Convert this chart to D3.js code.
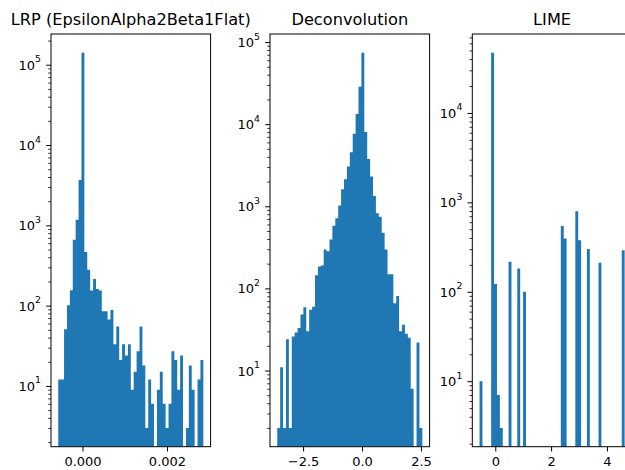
<!DOCTYPE html>
<html>
<head>
<meta charset="utf-8">
<script src="https://cdn.jsdelivr.net/npm/d3@7"></script>
<style>
  html, body { margin: 0; padding: 0; background: #fff; overflow: hidden; }
  svg { display: block; font-family: "DejaVu Sans", sans-serif; }
</style>
</head>
<body>
<div id="chart"></div>
<script>
// three log-scale histograms, 50 equal bins each, counts
var titles = ["LRP (EpsilonAlpha2Beta1Flat)", "Deconvolution", "LIME"]

var lrpRange = [-0.000574, 0.002861]
var lrpCounts = [12, 12, 51, 101, 155, 660, 1170, 3670, 141000, 465,
                 280, 154, 215, 161, 154, 85, 85, 67, 88, 33,
                 55, 21, 33, 24, 33, 9, 15, 27, 55, 18,
                 3, 12, 6, 0, 9, 15, 6, 3, 6, 27,
                 21, 9, 24, 0, 3, 18, 9, 0, 12, 21]
var lrpXTicks = [0, 0.002]
var lrpXLabels = ["0.000", "0.002"]
var lrpYExps = [1, 2, 3, 4, 5]

var deconvRange = [-3.596, 2.556]
var deconvCounts = [2, 11, 2, 24, 2, 26, 29, 33, 48, 59,
                    30, 55, 60, 145, 185, 190, 297, 284, 394, 578,
                    717, 1020, 1615, 2137, 3043, 4550, 7660, 13300, 28500, 74000,
                    8040, 3770, 2300, 1338, 824, 743, 475, 297, 149, 149,
                    66, 81, 30, 36, 28, 25, 6, 0, 22, 2]
var deconvXTicks = [-2.5, 0, 2.5]
var deconvXLabels = ["\u22122.5", "0.0", "2.5"]
var deconvYExps = [1, 2, 3, 4, 5]

var limeRange = [-0.563, 4.634]
var limeCounts = [10, 0, 0, 0, 47100, 122, 7, 3, 0, 0,
                  217, 0, 0, 182, 0, 100, 0, 0, 0, 0,
                  0, 0, 0, 0, 0, 0, 0, 0, 544, 393,
                  0, 0, 0, 793, 377, 0, 0, 300, 0, 0,
                  0, 211, 0, 0, 0, 0, 0, 0, 0, 292]
var limeXTicks = [0, 2, 4]
var limeXLabels = ["0", "2", "4"]
var limeYExps = [1, 2, 3, 4]

var panels = [
    { title: titles[0], range: lrpRange, counts: lrpCounts, xTicks: lrpXTicks, xLabels: lrpXLabels, yExps: lrpYExps, left: 51 },
    { title: titles[1], range: deconvRange, counts: deconvCounts, xTicks: deconvXTicks, xLabels: deconvXLabels, yExps: deconvYExps, left: 270 },
    { title: titles[2], range: limeRange, counts: limeCounts, xTicks: limeXTicks, xLabels: limeXLabels, yExps: limeYExps, left: 472.3 }
]

var width = 625
var height = 470
var plotTop = 34
var plotBottom = 446.7
var plotWidth = 159.6
var barColor = "#1f77b4"
var majorLen = 4.8
var minorLen = 2.8

var svg = d3.select("#chart")
    .append("svg")
    .attr("width", width)
    .attr("height", height)

panels.forEach(function (p, i) {
    var left = p.left
    var right = left + plotWidth
    var n = p.counts.length
    var step = (p.range[1] - p.range[0]) / n
    var edges = d3.range(n + 1).map(function (k) { return p.range[0] + k * step })

    // matplotlib style 5% margins (log space for y)
    var xPad = (p.range[1] - p.range[0]) * 0.05
    var x = d3.scaleLinear()
        .domain([p.range[0] - xPad, p.range[1] + xPad])
        .range([left, right])

    var positive = p.counts.filter(function (c) { return c > 0 })
    var lo = Math.log10(d3.min(positive))
    var hi = Math.log10(d3.max(positive))
    var yPad = (hi - lo) * 0.05
    var y = d3.scaleLog()
        .domain([Math.pow(10, lo - yPad), Math.pow(10, hi + yPad)])
        .range([plotBottom, plotTop])

    var g = svg.append("g")

    g.append("clipPath")
        .attr("id", "clip" + i)
        .append("rect")
        .attr("x", left)
        .attr("y", plotTop)
        .attr("width", plotWidth)
        .attr("height", plotBottom - plotTop)

    var bins = p.counts.map(function (c, k) { return { x0: edges[k], x1: edges[k + 1], count: c } })
        .filter(function (d) { return d.count > 0 })

    // all bars of a panel go in one path, so neighbours don't leave seams
    var bars = d3.path()
    bins.forEach(function (d) {
        bars.rect(x(d.x0), y(d.count), x(d.x1) - x(d.x0), plotBottom - y(d.count))
    })
    g.append("path")
        .attr("clip-path", "url(#clip" + i + ")")
        .attr("d", bars.toString())
        .attr("fill", barColor)

    // x axis
    var xAxis = g.append("g")
        .attr("transform", "translate(0," + plotBottom + ")")
        .call(d3.axisBottom(x)
            .tickValues(p.xTicks)
            .tickFormat(function (d, k) { return p.xLabels[k] })
            .tickSize(majorLen)
            .tickPadding(4.8))
    xAxis.select(".domain").remove()
    xAxis.selectAll("line").attr("stroke", "#000").attr("stroke-width", 1)
    xAxis.selectAll("text")
        .attr("fill", "#000")
        .style("font-size", "13px")
        .style("font-family", "DejaVu Sans")

    // y axis, minor ticks first
    var yDomain = y.domain()
    var minors = []
    for (var e = Math.floor(Math.log10(yDomain[0])); e <= Math.ceil(Math.log10(yDomain[1])); e++) {
        for (var m = 2; m <= 9; m++) {
            var v = m * Math.pow(10, e)
            if (v >= yDomain[0] && v <= yDomain[1]) minors.push(v)
        }
    }
    var yMinor = g.append("g")
        .attr("transform", "translate(" + left + ",0)")
        .call(d3.axisLeft(y).tickValues(minors).tickSize(minorLen).tickFormat(""))
    yMinor.select(".domain").remove()
    yMinor.selectAll("line").attr("stroke", "#000").attr("stroke-width", 0.8)

    var majors = p.yExps.map(function (e) { return Math.pow(10, e) })
    var yMajor = g.append("g")
        .attr("transform", "translate(" + left + ",0)")
        .call(d3.axisLeft(y).tickValues(majors).tickSize(majorLen).tickFormat(""))
    yMajor.select(".domain").remove()
    yMajor.selectAll("line").attr("stroke", "#000").attr("stroke-width", 1)

    var yLabels = g.selectAll(".ylab")
        .data(p.yExps)
        .enter()
        .append("text")
        .attr("class", "ylab")
        .attr("x", left - 10)
        .attr("y", function (e) { return y(Math.pow(10, e)) + 5 })
        .attr("text-anchor", "end")
        .attr("fill", "#000")
        .style("font-size", "13px")
    yLabels.append("tspan").text("10")
    yLabels.append("tspan")
        .attr("dy", -7.5)
        .style("font-size", "9.3px")
        .text(function (e) { return e })

    // frame
    g.append("rect")
        .attr("x", left)
        .attr("y", plotTop)
        .attr("width", plotWidth)
        .attr("height", plotBottom - plotTop)
        .attr("fill", "none")
        .attr("stroke", "#000")
        .attr("stroke-width", 1)

    g.append("text")
        .attr("x", (left + right) / 2)
        .attr("y", 25)
        .attr("text-anchor", "middle")
        .attr("fill", "#000")
        .style("font-size", "16.2px")
        .text(p.title)
})
</script>
</body>
</html>
